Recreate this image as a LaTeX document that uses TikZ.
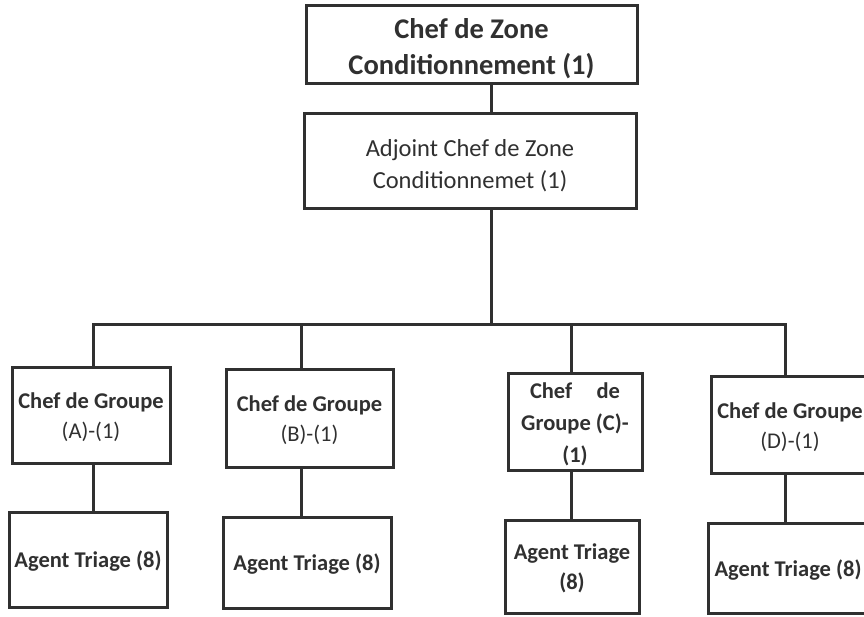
\documentclass[tikz,border=0pt]{standalone}
\usepackage{fontspec}
\setmainfont{Carlito}
% centred lines of text, drawn a little below the spot TikZ reserves for them
\newcommand{\lowtext}[2][3pt]{\raisebox{-#1}[\height][\depth]{%
  \begin{tabular}{@{}c@{}}#2\end{tabular}}}
\begin{document}
\begin{tikzpicture}[x=1pt,y=-1pt,
  box/.style={draw=ink, line width=3pt, fill=white, text=ink, align=center,
    inner sep=0pt, font=\fontsize{22.5}{30}\selectfont},
  link/.style={draw=ink, line width=3pt},
  ]
\definecolor{ink}{HTML}{303030}
\useasboundingbox[fill=white] (0,0) rectangle (864,616);

% top of the hierarchy
\node[box, minimum width=331pt, minimum height=78pt,
  font=\fontsize{28.5}{36}\selectfont\bfseries] (chef) at (471.5,44)
  {\lowtext[5pt]{Chef de Zone\\Conditionnement (1)}};
\node[box, minimum width=332pt, minimum height=95pt,
  font=\fontsize{24.5}{32}\selectfont] (adj) at (470,160.5)
  {\lowtext[5.5pt]{Adjoint Chef de Zone\\Conditionnemet (1)}};

% group leaders
\node[box, minimum width=158pt, minimum height=96pt] (ga) at (91,415)
  {\lowtext[2pt]{\textbf{Chef de Groupe}\\(A)-(1)}};
\node[box, minimum width=167pt, minimum height=98pt] (gb) at (309.5,418)
  {\lowtext[2pt]{\textbf{Chef de Groupe}\\(B)-(1)}};
\node[box, minimum width=134pt, minimum height=97pt,
  font=\fontsize{22.5}{32}\selectfont\bfseries] (gc) at (575,421.5)
  {\lowtext[3pt]{\makebox[90pt]{Chef\hfill de}\\Groupe (C)-\\(1)}};
\node[box, minimum width=158pt, minimum height=97pt] (gd) at (790,424.5)
  {\lowtext[2.5pt]{\textbf{Chef de Groupe}\\(D)-(1)}};

% sorting agents
\node[box, minimum width=158pt, minimum height=95pt,
  font=\fontsize{22.5}{30}\selectfont\bfseries] (aa) at (88,559.5)
  {\lowtext[2pt]{Agent Triage (8)}};
\node[box, minimum width=168pt, minimum height=91pt,
  font=\fontsize{22.5}{30}\selectfont\bfseries] (ab) at (307,562.5)
  {\lowtext[2pt]{Agent Triage (8)}};
\node[box, minimum width=134pt, minimum height=93pt,
  font=\fontsize{22.5}{30}\selectfont\bfseries] (ac) at (572,566.5)
  {\lowtext[2pt]{Agent Triage\\(8)}};
\node[box, minimum width=160pt, minimum height=90pt,
  font=\fontsize{22.5}{30}\selectfont\bfseries] (ad) at (788,568)
  {\lowtext[2pt]{Agent Triage (8)}};

% connectors
\coordinate (trunk) at (491,324);
\coordinate (busA) at (93,324);
\coordinate (busB) at (301,324);
\coordinate (busC) at (571,324);
\coordinate (busD) at (785,324);

\draw[link] (chef.south -| trunk) -- (adj.north -| trunk);
\draw[link] (adj.south -| trunk) -- (trunk);
\draw[link, line cap=rect] (busA) -- (busD);
\draw[link] (busA) -- (busA |- ga.north);
\draw[link] (busB) -- (busB |- gb.north);
\draw[link] (busC) -- (busC |- gc.north);
\draw[link] (busD) -- (busD |- gd.north);
\draw[link] (ga.south -| busA) -- (aa.north -| busA);
\draw[link] (gb.south -| busB) -- (ab.north -| busB);
\draw[link] (gc.south -| busC) -- (ac.north -| busC);
\draw[link] (gd.south -| busD) -- (ad.north -| busD);
\end{tikzpicture}
\end{document}
